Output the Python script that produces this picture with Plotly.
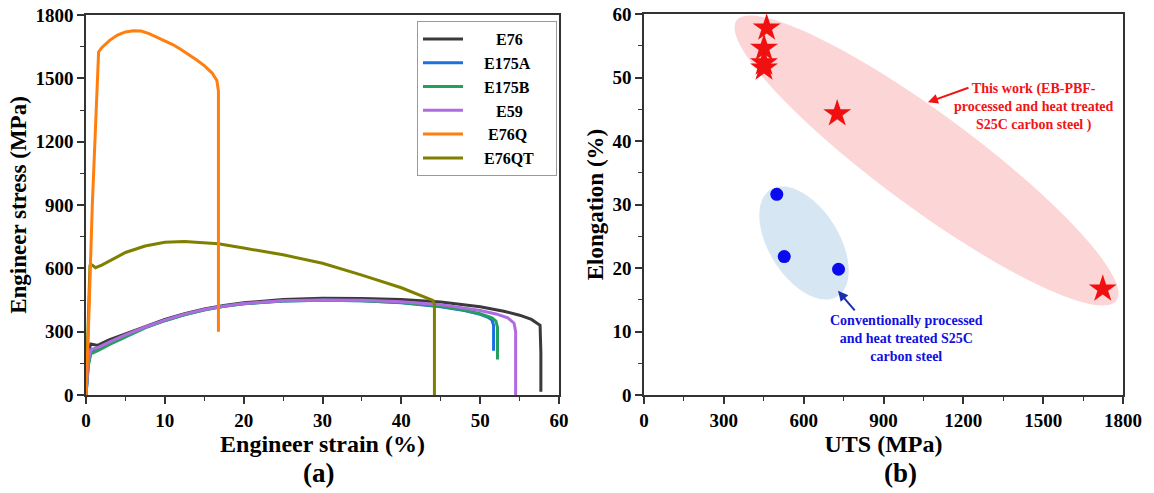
import numpy as np
import plotly.graph_objects as go

W, H = 1154, 493
FONT = "Liberation Serif"

# ---------------- Panel (a): engineering stress-strain curves ----------------
e76_strain = [0, 0.3, 0.6, 1.5, 2, 3, 5, 7.5, 10, 12.5, 15, 17.5, 20, 25, 30, 35, 40, 45, 50, 53, 55, 56.5, 57.3, 57.6, 57.7, 57.7]
e76_stress = [0, 200, 242, 235, 245, 262, 290, 325, 358, 385, 408, 424, 437, 452, 458, 457, 452, 440, 418, 397, 378, 358, 340, 330, 200, 15]

e175a_strain = [0, 0.3, 0.6, 1.5, 3, 5, 7.5, 10, 12.5, 15, 17.5, 20, 25, 30, 35, 40, 45, 48, 50, 51, 51.5, 51.7, 51.7]
e175a_stress = [0, 150, 200, 215, 245, 280, 320, 353, 381, 404, 420, 432, 445, 449, 447, 437, 418, 400, 382, 368, 355, 330, 210]

e175b_strain = [0, 0.3, 0.6, 1.5, 3, 5, 7.5, 10, 12.5, 15, 17.5, 20, 25, 30, 35, 40, 45, 48, 50, 51.5, 52, 52.2, 52.2]
e175b_stress = [0, 140, 195, 210, 240, 275, 318, 352, 380, 403, 420, 432, 445, 449, 447, 438, 420, 402, 385, 365, 350, 320, 168]

e59_strain = [0, 0.3, 0.6, 1.5, 3, 5, 7.5, 10, 12.5, 15, 17.5, 20, 25, 30, 35, 40, 45, 50, 52, 53.5, 54.3, 54.5, 54.5]
e59_stress = [0, 160, 215, 225, 252, 285, 322, 355, 383, 405, 421, 433, 446, 450, 449, 442, 428, 400, 384, 365, 340, 300, 0]

e76q_strain = [0, 0.3, 0.8, 1.3, 1.6, 2, 3, 4, 5, 6, 7, 8, 9, 10, 11, 12, 13, 14, 15, 16, 16.6, 16.8, 16.8]
e76q_stress = [0, 300, 900, 1400, 1625, 1645, 1680, 1705, 1720, 1725, 1724, 1712, 1695, 1680, 1660, 1638, 1614, 1588, 1560, 1525, 1490, 1440, 300]

e76qt_strain = [0, 0.2, 0.5, 0.8, 1.2, 2, 3, 5, 7.5, 10, 12.5, 15, 16.8, 20, 25, 30, 35, 40, 42, 44, 44.2, 44.2]
e76qt_stress = [0, 300, 612, 615, 603, 615, 635, 675, 706, 724, 727, 722, 716, 696, 664, 624, 568, 508, 478, 448, 430, 0]

names = ["E76", "E175A", "E175B", "E59", "E76Q", "E76QT"]
colors = ["#3a3a3a", "#1c6fe3", "#23a15c", "#b06be0", "#ff7f0e", "#7f7f00"]
strains = [e76_strain, e175a_strain, e175b_strain, e59_strain, e76q_strain, e76qt_strain]
stresses = [e76_stress, e175a_stress, e175b_stress, e59_stress, e76q_stress, e76qt_stress]
draw_order = [0, 1, 2, 3, 5, 4]
# leading/trailing non-breaking spaces centre the legend labels in their column
lead_pad = [7, 4, 4, 7, 5, 4]
trail_pad = [7, 4, 4, 7, 5, 4]

# ---------------- Panel (b): UTS vs elongation ----------------
this_uts = [461, 451, 451, 451, 726, 1724]
this_el = [57.8, 54.6, 52.3, 51.5, 44.3, 16.7]
conv_uts = [499, 527, 731]
conv_el = [31.6, 21.8, 19.8]

fig = go.Figure()

for i in draw_order:
    label = "\u00a0" * lead_pad[i] + names[i] + "\u00a0" * trail_pad[i]
    fig.add_trace(go.Scatter(
        x=strains[i], y=stresses[i], mode="lines", name=label,
        line=dict(color=colors[i], width=3), legendrank=i + 1,
        xaxis="x", yaxis="y"))

fig.add_trace(go.Scatter(
    x=this_uts, y=this_el, mode="markers", showlegend=False,
    marker=dict(symbol="star", size=21, color="#f01010", line=dict(width=0)),
    xaxis="x2", yaxis="y2"))
fig.add_trace(go.Scatter(
    x=conv_uts, y=conv_el, mode="markers", showlegend=False,
    marker=dict(symbol="circle", size=13, color="#0a0aee", line=dict(width=0)),
    xaxis="x2", yaxis="y2"))

# plot-area pixel geometry
ax_l, ax_r, ax_t, ax_b = 86, 559, 15, 395
bx_l, bx_r, bx_t, bx_b = 644, 1123, 14, 395
bx_range, by_range = 1800.0, 60.0
sx = (bx_r - bx_l) / bx_range
sy = (bx_b - bx_t) / by_range


def ellipse_path(cx, cy, a, b, theta_deg, n=120):
    t = np.linspace(0, 2 * np.pi, n)
    th = np.radians(theta_deg)
    px = cx + a * np.cos(t) * np.cos(th) - b * np.sin(t) * np.sin(th)
    py = cy + a * np.cos(t) * np.sin(th) + b * np.sin(t) * np.cos(th)
    xd = (px - bx_l) / sx
    yd = (bx_b - py) / sy
    pts = ["{:.2f},{:.3f}".format(x, y) for x, y in zip(xd, yd)]
    return "M " + " L ".join(pts) + " Z"


fig.add_shape(type="path", path=ellipse_path(926.5, 160.5, 236, 47, 36.4),
              xref="x2", yref="y2", fillcolor="#fcd5d6", line=dict(width=0), layer="below")
fig.add_shape(type="path", path=ellipse_path(804, 243, 63, 35, 58),
              xref="x2", yref="y2", fillcolor="#d6e6f3", line=dict(width=0), layer="below")

axis_common = dict(
    showline=True, linecolor="#333333", linewidth=1.5, mirror=True,
    ticks="outside", ticklen=7, tickwidth=1.5, tickcolor="#333333",
    tickfont=dict(family=FONT, size=19, color="black", weight="bold"),
    showgrid=False, zeroline=False, automargin=False,
)
xtitle_font = dict(family=FONT, size=24, color="black", weight="bold")
ytitle_font = dict(family=FONT, size=23, color="black", weight="bold")
minor_common = dict(ticks="outside", ticklen=4, tickcolor="#333333", tickwidth=1.2)

fig.update_layout(
    width=W, height=H, margin=dict(l=0, r=0, t=0, b=0),
    paper_bgcolor="white", plot_bgcolor="white",
    xaxis=dict(domain=[ax_l / W, ax_r / W], range=[0, 60], dtick=10, anchor="y",
               minor=dict(dtick=5, **minor_common),
               title=dict(text="Engineer strain (%)", font=xtitle_font, standoff=0), **axis_common),
    yaxis=dict(domain=[(H - ax_b) / H, (H - ax_t) / H], range=[0, 1800], dtick=300, anchor="x",
               minor=dict(dtick=150, **minor_common),
               title=dict(text="Engineer stress (MPa)", font=ytitle_font, standoff=2), **axis_common),
    xaxis2=dict(domain=[bx_l / W, bx_r / W], range=[0, 1800], dtick=300, anchor="y2",
                minor=dict(dtick=150, **minor_common),
                title=dict(text="UTS (MPa)", font=xtitle_font, standoff=0), **axis_common),
    yaxis2=dict(domain=[(H - bx_b) / H, (H - bx_t) / H], range=[0, 60], dtick=10, anchor="x2",
                minor=dict(dtick=5, **minor_common),
                title=dict(text="Elongation (%)", font=ytitle_font, standoff=2), **axis_common),
    legend=dict(x=417 / W, y=(H - 21) / H, xanchor="left", yanchor="top",
                bordercolor="#9a9a9a", borderwidth=1, bgcolor="white",
                font=dict(family=FONT, size=16, color="black", weight="bold"),
                tracegroupgap=0, itemwidth=40),
    showlegend=True,
)

annotations = [
    dict(text="(a)", x=318 / W, y=(H - 473) / H, xref="paper", yref="paper", showarrow=False,
         xanchor="center", yanchor="middle",
         font=dict(family=FONT, size=27, color="black", weight="bold")),
    dict(text="(b)", x=900 / W, y=(H - 473) / H, xref="paper", yref="paper", showarrow=False,
         xanchor="center", yanchor="middle",
         font=dict(family=FONT, size=27, color="black", weight="bold")),
    dict(text="This work (EB-PBF-<br>processed and heat treated<br>S25C carbon steel )",
         x=1466, y=45.3, xref="x2", yref="y2", showarrow=False, align="center",
         font=dict(family=FONT, size=14, color="#f01414", weight="bold")),
    dict(text="", x=1067, y=46.1, xref="x2", yref="y2", ax=42, ay=-15,
         showarrow=True, arrowhead=2, arrowsize=1, arrowwidth=2, arrowcolor="#f01414"),
    dict(text="Conventionally processed<br>and heat treated S25C<br>carbon steel",
         x=988, y=8.9, xref="x2", yref="y2", showarrow=False, align="center",
         font=dict(family=FONT, size=14, color="#1010e0", weight="bold")),
    dict(text="", x=729, y=16.4, xref="x2", yref="y2", ax=18, ay=21,
         showarrow=True, arrowhead=2, arrowsize=1, arrowwidth=2, arrowcolor="#1a2fb0"),
]
fig.update_layout(annotations=annotations)

fig.write_html("out.html")
